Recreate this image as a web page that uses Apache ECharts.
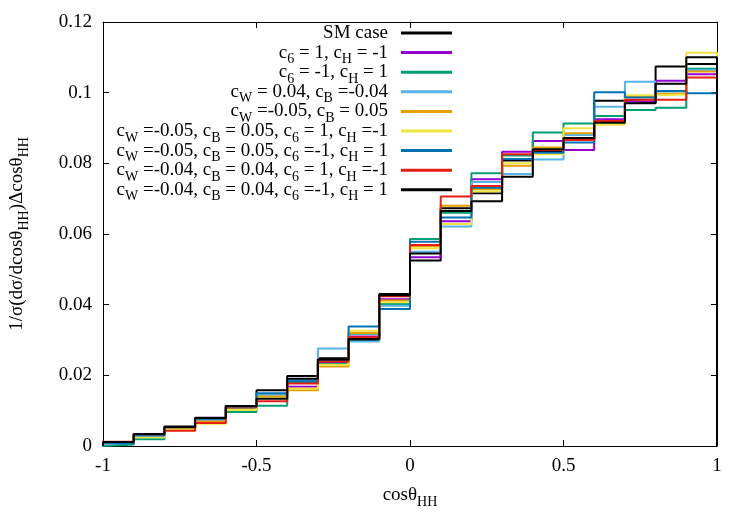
<!DOCTYPE html>
<html>
<head>
<meta charset="utf-8">
<script src="https://cdn.jsdelivr.net/npm/echarts@6/dist/echarts.min.js"></script>
<style>
html,body{margin:0;padding:0;background:#fff;}
#main{width:750px;height:525px;}
</style>
</head>
<body>
<div id="main"></div>
<script>
// bin edges for cos(theta_HH), 20 bins
var binEdges = [-1, -0.9, -0.8, -0.7, -0.6, -0.5, -0.4, -0.3, -0.2, -0.1, 0,
                0.1, 0.2, 0.3, 0.4, 0.5, 0.6, 0.7, 0.8, 0.9, 1];

// normalised values per bin
var smCase   = [0.0010, 0.0033, 0.0055, 0.0080, 0.0113, 0.0158, 0.0198, 0.0248, 0.0300, 0.0430,
                0.0525, 0.0673, 0.0715, 0.0808, 0.0835, 0.0870, 0.0977, 0.0972, 0.1074, 0.1081];
var c6p_cHm  = [0.0008, 0.0030, 0.0050, 0.0070, 0.0105, 0.0138, 0.0168, 0.0236, 0.0310, 0.0415,
                0.0534, 0.0636, 0.0755, 0.0833, 0.0863, 0.0838, 0.0925, 0.0975, 0.1034, 0.1052];
var c6m_cHp  = [0.0004, 0.0019, 0.0047, 0.0066, 0.0096, 0.0114, 0.0178, 0.0232, 0.0318, 0.0402,
                0.0586, 0.0660, 0.0772, 0.0822, 0.0887, 0.0913, 0.0934, 0.0951, 0.0957, 0.1068];
var cWp_cBm  = [0.0009, 0.0027, 0.0052, 0.0074, 0.0110, 0.0145, 0.0187, 0.0276, 0.0296, 0.0397,
                0.0550, 0.0621, 0.0747, 0.0770, 0.0811, 0.0880, 0.0960, 0.1031, 0.1003, 0.1064];
var cWm_cBp  = [0.0010, 0.0034, 0.0049, 0.0069, 0.0104, 0.0140, 0.0158, 0.0225, 0.0320, 0.0412,
                0.0565, 0.0680, 0.0727, 0.0793, 0.0845, 0.0885, 0.0920, 0.0990, 0.0997, 0.1060];
var mix1     = [0.0009, 0.0025, 0.0046, 0.0063, 0.0102, 0.0136, 0.0163, 0.0230, 0.0326, 0.0407,
                0.0560, 0.0628, 0.0720, 0.0800, 0.0826, 0.0899, 0.0909, 0.0993, 0.0995, 0.1113];
var mix2     = [0.0008, 0.0030, 0.0053, 0.0077, 0.0110, 0.0149, 0.0183, 0.0242, 0.0338, 0.0388,
                0.0578, 0.0647, 0.0731, 0.0812, 0.0830, 0.0859, 0.1001, 0.0986, 0.1005, 0.0998];
var mix3     = [0.0012, 0.0033, 0.0043, 0.0065, 0.0112, 0.0127, 0.0177, 0.0239, 0.0308, 0.0424,
                0.0569, 0.0706, 0.0736, 0.0826, 0.0838, 0.0866, 0.0920, 0.0980, 0.0980, 0.1043];
var mix4     = [0.0011, 0.0034, 0.0054, 0.0079, 0.0113, 0.0134, 0.0190, 0.0245, 0.0303, 0.0427,
                0.0545, 0.0665, 0.0693, 0.0762, 0.0840, 0.0872, 0.0915, 0.0970, 0.1025, 0.1100];

var seriesNames = ['SM case', 'c6 = 1, cH = -1', 'c6 = -1, cH = 1', 'cW = 0.04, cB =-0.04',
    'cW =-0.05, cB = 0.05', 'cW =-0.05, cB = 0.05, c6 = 1, cH =-1',
    'cW =-0.05, cB = 0.05, c6 =-1, cH = 1', 'cW =-0.04, cB = 0.04, c6 = 1, cH =-1',
    'cW =-0.04, cB = 0.04, c6 =-1, cH = 1'];
// legend text with subscripts
var seriesLabels = ['SM case', 'c{s|6} = 1, c{s|H} = -1', 'c{s|6} = -1, c{s|H} = 1',
    'c{s|W} = 0.04, c{s|B} =-0.04', 'c{s|W} =-0.05, c{s|B} = 0.05',
    'c{s|W} =-0.05, c{s|B} = 0.05, c{s|6} = 1, c{s|H} =-1',
    'c{s|W} =-0.05, c{s|B} = 0.05, c{s|6} =-1, c{s|H} = 1',
    'c{s|W} =-0.04, c{s|B} = 0.04, c{s|6} = 1, c{s|H} =-1',
    'c{s|W} =-0.04, c{s|B} = 0.04, c{s|6} =-1, c{s|H} = 1'];
var seriesColors = ['#000000', '#9400d3', '#009e73', '#56b4e9', '#e69f00',
                    '#f0e442', '#0072b2', '#e51e10', '#000000'];
var seriesValues = [smCase, c6p_cHm, c6m_cHp, cWp_cBm, cWm_cBp, mix1, mix2, mix3, mix4];

var FONT = '"Liberation Serif", "Times New Roman", serif';
var LH = 28;
var subRich = {
    s: { fontFamily: FONT, fontSize: 14, color: '#000', verticalAlign: 'bottom', lineHeight: LH }
};

// turn bin values into histogram step points (dropping to 0 at both ends)
function histSteps(values){
    var pts = [[binEdges[0], 0]];
    for (var i = 0; i < values.length; i++) {
        pts.push([binEdges[i], values[i]]);
    }
    pts.push([binEdges[binEdges.length - 1], values[values.length - 1]]);
    pts.push([binEdges[binEdges.length - 1], 0]);
    return pts;
}

var myChart = echarts.init(document.getElementById('main'), null, { renderer: 'canvas' });

var series = [], legends = [];
for (var k = 0; k < seriesValues.length; k++) {
    series.push({
        name: seriesNames[k],
        type: 'line',
        step: 'end',
        symbol: 'none',
        showSymbol: false,
        data: histSteps(seriesValues[k]),
        lineStyle: { color: seriesColors[k], width: 2 },
        itemStyle: { color: seriesColors[k] },
        z: 2 + k
    });
    (function(idx){
        legends.push({
            data: [seriesNames[idx]],
            orient: 'vertical',
            align: 'right',
            icon: 'rect',
            right: 293,
            top: 33 + idx * 19.6 - LH / 2 - 5,
            padding: 5,
            itemWidth: 51,
            itemHeight: 3,
            selectedMode: false,
            formatter: function(){ return seriesLabels[idx]; },
            textStyle: {
                fontFamily: FONT, fontSize: 19, color: '#000', lineHeight: LH,
                padding: [0, 8, 0, 0],
                rich: subRich
            }
        });
    })(k);
}

var tickStyle = { show: true, inside: true, length: 6, lineStyle: { color: '#000', width: 1 } };

var option = {
    animation: false,
    backgroundColor: '#fff',
    grid: { left: 103, right: 33, top: 22, bottom: 79, show: false, outerBoundsMode: 'none', containLabel: false },
    legend: legends,
    xAxis: [{
        type: 'value',
        min: -1, max: 1, interval: 0.5,
        axisLine: { show: true, onZero: false, lineStyle: { color: '#000', width: 1 } },
        axisTick: tickStyle,
        splitLine: { show: false },
        axisLabel: { color: '#000', fontFamily: FONT, fontSize: 19, margin: 11 },
        name: 'cosθ{s|HH}',
        nameLocation: 'middle',
        nameGap: 27,
        nameTextStyle: { color: '#000', fontFamily: FONT, fontSize: 19, lineHeight: LH, rich: subRich }
    }, {
        type: 'value', position: 'top',
        min: -1, max: 1, interval: 0.5,
        axisLine: { show: true, onZero: false, lineStyle: { color: '#000', width: 1 } },
        axisTick: tickStyle,
        splitLine: { show: false },
        axisLabel: { show: false }
    }],
    yAxis: [{
        type: 'value',
        min: 0, max: 0.12, interval: 0.02,
        axisLine: { show: true, onZero: false, lineStyle: { color: '#000', width: 1 } },
        axisTick: tickStyle,
        splitLine: { show: false },
        axisLabel: { color: '#000', fontFamily: FONT, fontSize: 19, margin: 11 },
        name: '1/σ(dσ/dcosθ{s|HH})Δcosθ{s|HH}',
        nameLocation: 'middle',
        nameGap: 72,
        nameTextStyle: { color: '#000', fontFamily: FONT, fontSize: 19, lineHeight: LH, rich: subRich }
    }, {
        type: 'value', position: 'right',
        min: 0, max: 0.12, interval: 0.02,
        axisLine: { show: true, onZero: false, lineStyle: { color: '#000', width: 1 } },
        axisTick: tickStyle,
        splitLine: { show: false },
        axisLabel: { show: false }
    }],
    series: series
};

myChart.setOption(option);
</script>
</body>
</html>
